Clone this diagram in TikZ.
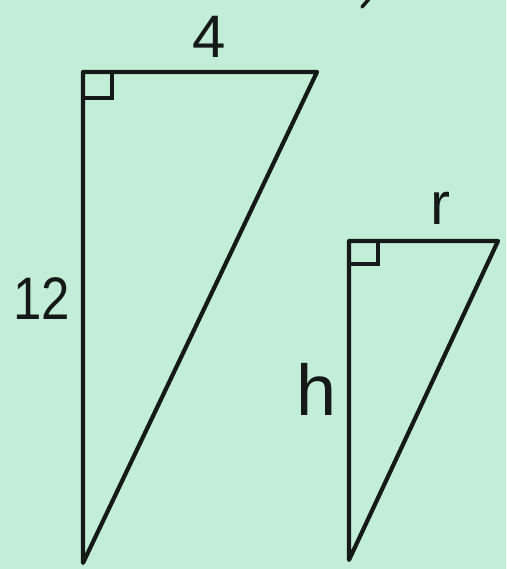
\documentclass[tikz,border=0pt]{standalone}
\usepackage{fontspec}
\setmainfont{Liberation Sans}
\definecolor{bg}{HTML}{C2EED8}
\definecolor{ink}{HTML}{151A18}
\begin{document}
\begin{tikzpicture}[x=1pt,y=-1pt,
  edge/.style={draw=ink,line width=4.2pt,line join=round,line cap=round},
  rtmark/.style={draw=ink,line width=3.8pt},
  lbl/.style={text=ink,inner sep=0pt,font=\fontsize{60}{60}\selectfont}]
\fill[bg] (0,0) rectangle (506,569);
\useasboundingbox (0,0) rectangle (506,569);
% big triangle
\coordinate (A1) at (83,72);
\coordinate (B1) at (317,72);
\coordinate (C1) at (83,563);
\draw[edge] (B1) -- (A1) -- (C1) -- cycle;
\draw[rtmark] (83,98) -- (112,98) -- (112,72);
% small triangle
\coordinate (A2) at (349,241);
\coordinate (B2) at (498,241);
\coordinate (C2) at (349,560);
\draw[edge] (B2) -- (A2) -- (C2) -- cycle;
\draw[rtmark] (349,264) -- (378,264) -- (378,241);
% labels
\node[lbl] (four) at (209,37) {4};
\node[lbl] (twelve) at (42,299) {\scalebox{0.85}[1]{12}};
\node[lbl,anchor=base] (r) at (440,224) {r};
\node[lbl,font=\fontsize{72}{72}\selectfont,anchor=base] (h) at (317,415) {h};
% stray mark at top edge
\coordinate (m1) at (369,-1);
\coordinate (m2) at (362,7);
\draw[ink,line width=3.5pt,line cap=round] (m1) -- (m2);
\end{tikzpicture}
\end{document}
